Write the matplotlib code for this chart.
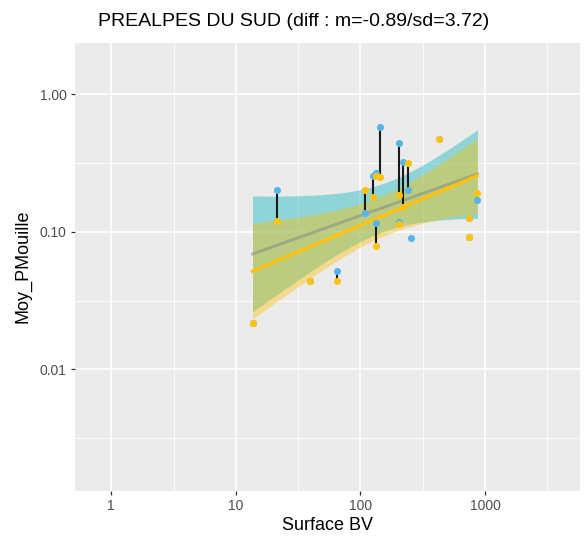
import math

import numpy as np
import matplotlib
matplotlib.use("Agg")
import matplotlib.pyplot as plt
from matplotlib.ticker import FixedLocator, FixedFormatter, NullFormatter

plt.rcParams['font.family'] = ['Liberation Sans', 'DejaVu Sans']

# surface of each basin (km2) with observed / simulated mean wet proportion
surface_bv = [13.6, 21.2, 39.4, 64.4, 109, 127, 134, 144, 133,
              203, 203, 221, 241, 253, 430, 745, 745, 867]
pm_obs = [0.0218, 0.201, 0.0436, 0.0522, 0.136, 0.255, 0.266, 0.582, 0.115,
          0.445, 0.117, 0.320, 0.201, 0.0902, 0.473, 0.125, 0.0917, 0.169]
pm_sim = [0.0218, 0.120, 0.0436, 0.0441, 0.200, 0.179, 0.255, 0.252, 0.0793,
          0.186, 0.113, 0.151, 0.315, np.nan, 0.473, 0.125, 0.0917, 0.190]

title = "PREALPES DU SUD (diff : m=-0.89/sd=3.72)"
x_ticks = [1, 10, 100, 1000]
x_labels = ["1", "10", "100", "1000"]
y_ticks = [0.01, 0.1, 1]
y_labels = ["0.01", "0.10", "1.00"]

col_obs = "#56B4E9"
col_sim = "#FFC20E"


def t_quantile(p, df):
    # quantile of Student t from a numerical cdf
    grid = np.linspace(0, 12, 40001)
    c = math.exp(math.lgamma((df + 1) / 2) - math.lgamma(df / 2)) / math.sqrt(df * math.pi)
    pdf = c * (1 + grid ** 2 / df) ** (-(df + 1) / 2)
    cdf = 0.5 + np.concatenate([[0], np.cumsum((pdf[1:] + pdf[:-1]) / 2 * np.diff(grid))])
    return np.interp(p, cdf, grid)


def lm_band(x, y, n_out=80):
    x = np.asarray(x, float)
    y = np.asarray(y, float)
    ok = ~np.isnan(y)
    lx, ly = np.log10(x[ok]), np.log10(y[ok])
    n = len(lx)
    slope, icpt = np.polyfit(lx, ly, 1)
    resid = ly - (icpt + slope * lx)
    s = np.sqrt(np.sum(resid ** 2) / (n - 2))
    sxx = np.sum((lx - lx.mean()) ** 2)
    gx = np.linspace(lx.min(), lx.max(), n_out)
    fit = icpt + slope * gx
    se = s * np.sqrt(1 / n + (gx - lx.mean()) ** 2 / sxx)
    tq = t_quantile(0.975, n - 2)
    return 10 ** gx, 10 ** fit, 10 ** (fit - tq * se), 10 ** (fit + tq * se)

fig = plt.figure(figsize=(5.87, 5.40), dpi=100)
ax = fig.add_axes([0.1278, 0.0913, 0.8602, 0.8297])
ax.set_facecolor("#EBEBEB")
for sp in ax.spines.values():
    sp.set_visible(False)

ax.set_xscale("log")
ax.set_yscale("log")
ax.set_xlim(0.512, 5768)
ax.set_ylim(0.00131, 2.37)

ax.xaxis.set_major_locator(FixedLocator(x_ticks))
ax.xaxis.set_major_formatter(FixedFormatter(x_labels))
ax.yaxis.set_major_locator(FixedLocator(y_ticks))
ax.yaxis.set_major_formatter(FixedFormatter(y_labels))
ax.xaxis.set_minor_locator(FixedLocator([10 ** (k + 0.5) for k in range(-1, 4)]))
ax.yaxis.set_minor_locator(FixedLocator([10 ** (k + 0.5) for k in range(-3, 1)]))
ax.xaxis.set_minor_formatter(NullFormatter())
ax.yaxis.set_minor_formatter(NullFormatter())
ax.grid(which="major", color="white", linewidth=1.2)
ax.grid(which="minor", color="white", linewidth=0.6)
ax.set_axisbelow(True)
ax.tick_params(which="major", length=3, width=0.9, color="#333333",
               labelcolor="#4D4D4D", labelsize=10, pad=3)
ax.tick_params(which="minor", length=0)

# regression bands (log-log lm with 95% CI)
bx, bfit, blo, bhi = lm_band(surface_bv, pm_obs)
sx, sfit, slo, shi = lm_band(surface_bv, pm_sim)
ax.fill_between(bx, blo, bhi, color="#20B8C0", alpha=0.45, linewidth=0, zorder=2)
ax.fill_between(sx, slo, shi, color="#FFC000", alpha=0.4, linewidth=0, zorder=2.1)
ax.plot(bx, bfit, color="#7F7F7F", alpha=0.45, linewidth=2.2, zorder=2.2)
ax.plot(sx, sfit, color=col_sim, linewidth=2.4, zorder=2.3)

# observed vs simulated gap for each basin
ax.vlines(surface_bv, pm_obs, pm_sim, color="#1A1A1A", linewidth=1.5, zorder=3)
ax.scatter(surface_bv, pm_obs, s=26, color=col_obs, linewidths=0, zorder=4)
ax.scatter(surface_bv, pm_sim, s=26, color=col_sim, linewidths=0, zorder=5)

ax.set_xlabel("Surface BV", fontsize=13, labelpad=3)
ax.set_ylabel("Moy_PMouille", fontsize=13, labelpad=6)
fig.text(0.5, 0.96, title, ha="center", va="center", fontsize=14)

fig.savefig("out.png", dpi=100)
